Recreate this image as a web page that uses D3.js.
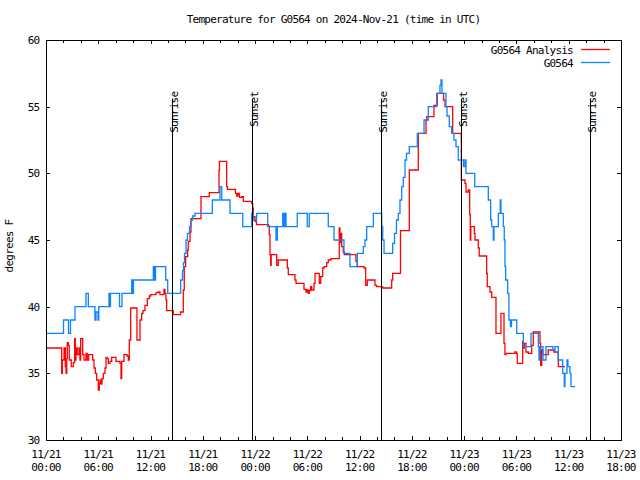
<!DOCTYPE html>
<html><head><meta charset="utf-8">
<script src="https://cdn.jsdelivr.net/npm/d3@7"></script>
<style>
body{margin:0;background:#fff}
svg text{font-family:"DejaVu Sans Mono",monospace;font-size:11px;letter-spacing:-0.75px;fill:#000}
</style></head><body><svg id="c" width="640" height="480"></svg>
<script>
const title = "Temperature for G0564 on 2024-Nov-21 (time in UTC)";
const yLabel = "degrees F";
const seriesNames = ["G0564 Analysis", "G0564"];
const seriesColors = ["#ff0000", "#0a84ff"];
const startTime = "2024-11-21T00:00:00Z";
const endTime = "2024-11-23T18:00:00Z";
const yDomain = [30, 60];
const yTicks = [30, 35, 40, 45, 50, 55, 60];
const sunHours = [14.50, 23.68, 38.50, 47.67, 62.55];
const sunLabels = ["Sunrise", "Sunset", "Sunrise", "Sunset", "Sunrise"];
const sunLineTop = 55.6;

// G0564 Analysis (hours since start, degrees F)
const redHours = [0.00,1.80,1.87,2.07,2.22,2.30,2.38,2.44,2.56,2.67,2.90,3.13,3.29,3.36,3.44,3.59,3.79,3.90,3.98,4.21,4.36,4.59,4.74,4.90,5.36,5.51,5.66,5.82,6.00,6.12,6.20,6.31,6.43,6.58,6.77,6.89,7.00,7.15,7.35,7.54,8.03,8.49,8.61,8.69,8.95,9.30,9.45,9.56,9.72,10.44,10.79,10.98,11.13,11.36,11.63,11.86,12.02,12.63,12.89,13.08,13.54,13.66,13.77,13.85,14.61,15.44,15.76,15.87,16.03,16.26,16.33,16.53,16.64,17.79,18.74,19.86,19.91,20.74,20.83,21.75,21.89,22.04,22.21,22.46,22.65,23.61,23.72,23.79,23.99,24.16,25.52,25.63,25.71,25.79,25.85,26.48,26.66,27.70,27.81,28.58,28.70,29.61,29.84,29.99,30.11,30.22,30.38,30.50,30.76,30.88,31.37,31.53,31.76,31.91,32.22,32.40,32.71,33.66,33.74,33.84,33.94,34.12,34.24,35.58,35.73,36.50,36.69,36.88,37.76,37.96,38.65,39.68,39.79,40.69,41.70,42.73,43.62,43.70,44.53,44.91,45.63,45.80,46.68,47.67,48.09,48.21,48.47,48.63,48.70,48.76,49.16,49.24,49.62,49.73,50.58,50.65,50.96,51.16,51.65,52.22,52.57,52.68,52.80,53.83,54.00,54.09,54.71,54.78,54.90,55.09,55.36,55.75,55.93,56.70,56.78,56.90,57.01,57.65,58.31,58.80,59.57];
const redTemps = [36.9,35,36,36.9,35.5,35,36.1,37.3,37.1,36,35.5,35.8,37.6,36,36.9,36.4,36.9,36,37.6,36.4,36,36.5,36,36.4,36,35.4,35,34.5,33.75,34.25,34.5,34.2,34.6,35,35.4,36.2,36.1,35.75,35.9,36.2,35.9,35.75,34.6,35.9,36.4,36.3,36,37.5,39.9,37.5,39,39.5,39.7,40.1,40.6,40.8,40.9,41.05,41.1,40.9,41.3,41,40.5,39.7,39.4,39.6,41.25,43,43.75,44.25,44.9,45.6,46.6,48.25,48.55,50.25,50.9,49,48.8,48.5,48.3,48.5,48.2,48.25,47.9,47.75,47.4,46.75,46.4,46.15,46.05,45.4,43.9,43.1,43.9,43.1,43.5,42.9,42.4,42,41.75,41.3,41.1,41.25,41,41.2,41.5,41.25,41.75,42.5,41.75,42.25,42.9,43,43.3,43.5,43.6,45.9,44.8,45.5,44.5,44.1,43.9,43.4,43,42.9,41.6,42,41.6,41.5,41.4,42,42.5,45.7,50.25,53,54,54.25,55.1,56,55.5,55,53,49.5,49.25,48.6,48.75,46.9,45,46,45.5,45,44.4,43.8,42.5,41.5,41.1,40.7,38,39.5,37.25,36.4,36.5,36.6,36.5,35.75,37.4,36.9,37.25,36.6,36.5,37.1,38.1,37.25,35.6,36.75,36.4,36.75,36.6,35.5,35.5];

// G0564 observations (hours since start, degrees F)
const blueHours = [0.00,2.01,2.58,2.81,3.33,4.59,4.86,5.62,5.74,5.97,6.06,7.23,7.35,7.40,8.44,8.72,9.84,9.95,10.04,12.32,12.43,12.57,13.74,13.97,15.46,15.67,15.78,15.90,16.07,16.24,16.47,16.64,16.82,17.10,19.09,19.97,20.17,21.12,22.58,23.61,23.79,24.18,25.45,26.40,26.55,27.17,27.32,27.43,27.55,28.84,29.99,30.22,32.40,33.06,34.20,34.89,35.73,36.42,36.61,36.81,37.57,38.53,38.65,38.80,39.79,40.00,40.23,40.44,40.63,40.83,41.01,41.21,41.38,41.70,42.62,43.39,43.88,44.84,45.22,45.34,45.45,45.91,46.03,46.29,46.57,46.83,47.06,47.32,47.92,48.09,48.21,49.21,50.77,51.04,51.16,51.34,51.42,51.92,52.14,52.22,52.49,52.60,52.68,52.76,52.99,53.14,53.31,53.43,54.03,54.79,55.67,56.51,56.59,56.70,57.05,57.39,58.19,58.42,58.80,59.31,59.49,59.57,59.80,59.91,60.14,60.26,60.72];
const blueTemps = [38,39,38,39,40,41,40,39,39.6,39,40,41,40,41,40,41,42,41,42,43,42,43,42,41,42,42.7,43.3,44,45,45.5,46,46.5,46.8,47,48,49,48,47,46,47,46.5,47,46,45,46,47,46,47,46,47,46,47,46,45,44,43,44,44.5,45,46,47,46,45,44,44.75,45.5,46.5,47,48,49,49.7,51,51.5,52,53,54,55,56,56.6,57,56,55,54.3,53.5,53,52.5,52,51,50.5,51,50,49,48,46.5,46,45,46,47,48,47,46,45,43,42,41,39,38.5,39,38,37,38,37,36,37,36,37,36.7,37,36,35,34,35,36,35.5,35,34,34];

const svg = d3.select("#c");
const L = 46, R = 621, T = 40, B = 440;
const t0 = new Date(startTime), t1 = new Date(endTime);
const hToDate = h => new Date(t0.getTime() + h * 3600e3);
const x = d3.scaleUtc().domain([t0, t1]).range([L, R]);
const y = d3.scaleLinear().domain(yDomain).range([B, T]);

const majorTicks = d3.utcHour.every(6).range(t0, new Date(t1.getTime() + 1));
const minorTicks = d3.utcHour.every(2).range(t0, new Date(t1.getTime() + 1)).filter(d => d.getUTCHours() % 6 !== 0);

function axisG(axis, tx, ty) {
  const g = svg.append("g").attr("transform", `translate(${tx},${ty})`).call(axis);
  g.select(".domain").remove();
  g.selectAll("text").remove();
  g.selectAll("line").attr("stroke", "#000").attr("shape-rendering", "crispEdges");
  return g;
}
axisG(d3.axisBottom(x).tickValues(majorTicks).tickSize(-4), 0, B);
axisG(d3.axisBottom(x).tickValues(minorTicks).tickSize(-3), 0, B);
axisG(d3.axisTop(x).tickValues(majorTicks).tickSize(-4), 0, T);
axisG(d3.axisTop(x).tickValues(minorTicks).tickSize(-3), 0, T);
axisG(d3.axisLeft(y).tickValues(yTicks).tickSize(-4), L, 0);
axisG(d3.axisRight(y).tickValues(yTicks).tickSize(-4), R, 0);

// x tick labels
const fmtD = d3.utcFormat("%m/%d"), fmtT = d3.utcFormat("%H:%M");
majorTicks.forEach(d => {
  const t = svg.append("text").attr("text-anchor", "middle");
  t.append("tspan").attr("x", x(d)).attr("y", B + 18).text(fmtD(d));
  t.append("tspan").attr("x", x(d)).attr("y", B + 30.5).text(fmtT(d));
});
// y tick labels
yTicks.forEach(v => {
  svg.append("text").attr("x", L - 6.5).attr("y", y(v) + 4).attr("text-anchor", "end").text(v);
});

// title and y label
svg.append("text").attr("x", (L + R) / 2).attr("y", 23).attr("text-anchor", "middle").text(title);
svg.append("text").attr("transform", `translate(13,246) rotate(-90)`).attr("text-anchor", "middle").text(yLabel);

// series
const line = d3.line().x(d => x(d[0])).y(d => y(d[1])).curve(d3.curveStepAfter);
const redData = redHours.map((h, i) => [hToDate(h), redTemps[i]]);
const blueData = blueHours.map((h, i) => [hToDate(h), blueTemps[i]]);
[redData, blueData].forEach((data, i) => {
  svg.append("path").datum(data).attr("d", line).attr("fill", "none")
    .attr("stroke", seriesColors[i]).attr("stroke-width", 1.3);
});

// sunrise/sunset markers
sunHours.forEach((h, i) => {
  const xx = x(hToDate(h));
  svg.append("line").attr("x1", xx).attr("x2", xx).attr("y1", y(sunLineTop)).attr("y2", B)
    .attr("stroke", "#000").attr("shape-rendering", "crispEdges");
  svg.append("text").attr("transform", `translate(${xx + 5.5},${y(sunLineTop) - 7}) rotate(-90)`)
    .attr("text-anchor", "end").text(sunLabels[i]);
});

// legend
seriesNames.forEach((n, i) => {
  const yy = 49.5 + i * 13;
  svg.append("text").attr("x", 573).attr("y", yy + 4.5).attr("text-anchor", "end").text(n);
  svg.append("line").attr("x1", 581).attr("x2", 610).attr("y1", yy).attr("y2", yy)
    .attr("stroke", seriesColors[i]).attr("stroke-width", 1.3);
});

// border
svg.append("rect").attr("x", L).attr("y", T).attr("width", R - L).attr("height", B - T)
  .attr("fill", "none").attr("stroke", "#000").attr("shape-rendering", "crispEdges");
</script></body></html>
